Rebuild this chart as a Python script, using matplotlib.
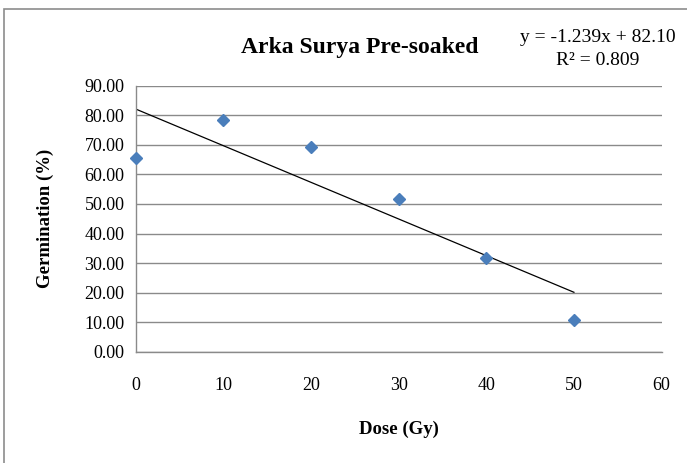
import numpy as np
import matplotlib
matplotlib.use('Agg')
from matplotlib import pyplot as plt
from matplotlib.patches import Rectangle

# doses and germination
dose = [0, 10, 20, 30, 40, 50]
germination = [65.4, 78.4, 69.1, 51.6, 31.6, 10.7]

# trendline coefficients as printed on the chart
slope = -1.239
intercept = 82.10
r2 = 0.809

x_ticks = [0, 10, 20, 30, 40, 50, 60]
y_ticks = [0, 10, 20, 30, 40, 50, 60, 70, 80, 90]

plt.rcParams['font.family'] = ['Liberation Serif', 'DejaVu Serif']

fig = plt.figure(figsize=(6.87, 4.63), dpi=100)
# outer chart frame (runs off right and bottom)
fig.patches.append(Rectangle((4 / 687, -0.1), 1.2, 1.1 - 9 / 463,
                             transform=fig.transFigure, fill=False,
                             edgecolor='#8c8c8c', linewidth=1.2))

ax = fig.add_axes([0.1975, 0.240, 0.7655, 0.575])
ax.set_xlim(0, 60)
ax.set_ylim(0, 90)
ax.set_xticks(x_ticks)
ax.set_yticks(y_ticks)
ax.set_yticklabels(['%.2f' % v for v in y_ticks])
ax.tick_params(axis='both', length=0, labelsize=13)
ax.tick_params(axis='x', pad=18)
ax.tick_params(axis='y', pad=8)
ax.grid(axis='y', color='#8a8a8a', linewidth=1)
ax.set_axisbelow(True)
for s in ['top', 'right']:
    ax.spines[s].set_visible(False)
for s in ['left', 'bottom']:
    ax.spines[s].set_color('#8a8a8a')
    ax.spines[s].set_linewidth(1)

ax.plot(dose, germination, linestyle='none', marker='D', markersize=6,
        color='#4a7ebb', zorder=3, clip_on=False)

tx = np.array([dose[0], dose[-1]])
ax.plot(tx, slope * tx + intercept, color='black', linewidth=0.9, zorder=2)

fig.text(0.524, 0.897, 'Arka Surya Pre-soaked', ha='center', va='center',
         fontsize=17, fontweight='bold')
fig.text(0.87, 0.92, 'y = %.3fx + %.2f' % (slope, intercept), ha='center', va='center',
         fontsize=14)
fig.text(0.87, 0.87, 'R\u00b2 = %.3f' % r2, ha='center', va='center', fontsize=14)

ax.set_xlabel('Dose (Gy)', fontsize=13.5, fontweight='bold', labelpad=19)
ax.set_ylabel('Germination (%)', fontsize=13.5, fontweight='bold', labelpad=22)

plt.savefig('out.png', dpi=100)
